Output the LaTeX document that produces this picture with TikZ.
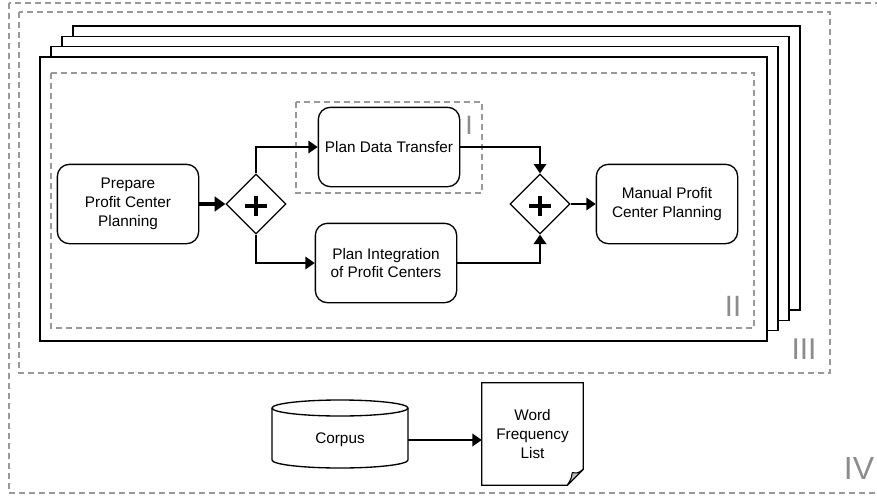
\documentclass[tikz,border=0pt]{standalone}
\usepackage{fontspec}
\setmainfont{Liberation Sans}
\usetikzlibrary{arrows.meta,shapes.geometric}

\tikzset{
    task/.style={draw, line width=1pt, rounded corners=9pt, minimum width=106pt, minimum height=59.5pt, align=center, inner sep=2pt, font=\fontsize{11.5}{14.2}\selectfont},
    gateway/.style={draw, diamond, line width=1pt, minimum width=45pt, minimum height=45pt, inner sep=0pt},
    flow/.style={-{Triangle[length=7pt,width=9.5pt]}, line width=1pt},
    region/.style={draw=black!40, line width=1pt, dash pattern=on 4.5pt off 3pt},
    sheet/.style={draw, fill=white, line width=1pt},
    roman/.style={text=black!45, inner sep=0pt}
}

\begin{document}
\begin{tikzpicture}[x=0.75pt, y=-0.75pt]
    \useasboundingbox (0,0) rectangle (877,496);

    \draw [region] (9,3) rectangle (890,493);
    \draw [region] (19,12) rectangle (830,373);
    \foreach \k in {3,2,1,0}
        \draw [sheet] (40+11*\k,57-10.3*\k) rectangle (767+11*\k,341-10.3*\k);
    \draw [region] (51,73) rectangle (754,328);
    \draw [region] (296,102) rectangle (482,193);

    \node [roman, font=\fontsize{20}{20}\selectfont] (labI) at (469,125) {I};
    \node [roman, font=\fontsize{22}{22}\selectfont] (labII) at (733,306) {II};
    \node [roman, font=\fontsize{22.5}{22.5}\selectfont] (labIII) at (804,349) {III};
    \node [roman, font=\fontsize{24}{24}\selectfont] (labIV) at (859,468) {IV};

    \node [task] (prep) at (128,204) {Prepare\\Profit Center\\Planning};
    \node [gateway] (g1) at (256,204) {};
    \node [task] (pdt) at (389,147) {Plan Data Transfer};
    \node [task] (pint) at (386,263) {Plan Integration\\of Profit Centers};
    \node [gateway] (g2) at (540,204) {};
    \node [task] (man) at (667,204) {Manual Profit\\Center Planning};

    % parallel gateway marks
    \foreach \g in {g1,g2} {
        \draw [line width=3.5pt] ([yshift=-1.5pt]\g.center) ++(-8.25pt,0) -- ++(16.5pt,0);
        \draw [line width=3.5pt] ([yshift=-1.5pt]\g.center) ++(0,-7.5pt) -- ++(0,15pt);
    }

    \draw [-{Triangle[length=8pt,width=11pt]}, line width=2.6pt] (prep) -- (g1);
    \draw [flow] (g1.north) |- (pdt.west);
    \draw [flow] (g1.south) |- (pint.west);
    \draw [flow] (pdt.east) -| (g2.north);
    \draw [flow] (pint.east) -| (g2.south);
    \draw [flow] (g2) -- (man);

    \node [inner sep=0pt, minimum width=102pt, minimum height=39pt, font=\fontsize{11.5}{14.2}\selectfont] (corpus) at (340,440) {Corpus};
    \draw [line width=1pt] ([xshift=-51pt,yshift=24pt]corpus.center) -- ([xshift=-51pt,yshift=-15pt]corpus.center)
        arc [start angle=180, end angle=360, x radius=51pt, y radius=6pt] -- ([xshift=51pt,yshift=24pt]corpus.center);
    \draw [line width=1pt] ([yshift=24pt]corpus.center) ellipse [x radius=51pt, y radius=6pt];

    \node [inner sep=0pt, minimum width=75.75pt, minimum height=76.5pt, align=center, font=\fontsize{11.5}{14.2}\selectfont] (wfl) at (532.5,434) {Word\\Frequency\\List};
    \draw [line width=1pt] (wfl.north west) -- (wfl.north east) -- ([yshift=12pt]wfl.south east)
        -- ([xshift=-12pt]wfl.south east) -- (wfl.south west) -- cycle;
    \filldraw [fill=black!25, line width=0.8pt, line join=round] ([yshift=12pt]wfl.south east) -- ([xshift=-12pt]wfl.south east)
        .. controls ([xshift=-9pt,yshift=5pt]wfl.south east) .. ([xshift=-8.25pt,yshift=9.5pt]wfl.south east)
        .. controls ([xshift=-4pt,yshift=9pt]wfl.south east) .. cycle;

    \draw [flow] (corpus.east) -- (corpus.east -| wfl.west);
\end{tikzpicture}
\end{document}
